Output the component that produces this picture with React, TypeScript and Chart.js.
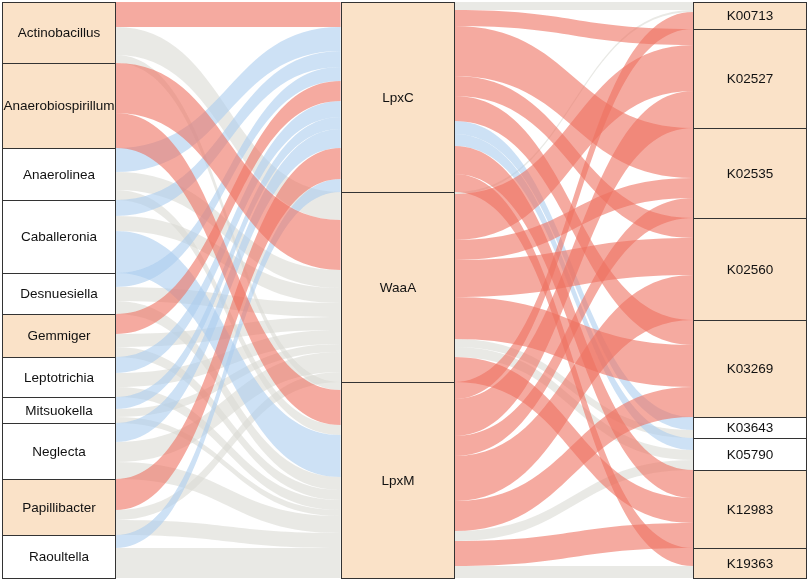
import React, { useEffect, useRef } from "react";
import { Chart, registerables } from "chart.js";

Chart.register(...registerables);

// ---- data ----
const genera = [
  "Actinobacillus",
  "Anaerobiospirillum",
  "Anaerolinea",
  "Caballeronia",
  "Desnuesiella",
  "Gemmiger",
  "Leptotrichia",
  "Mitsuokella",
  "Neglecta",
  "Papillibacter",
  "Raoultella",
];
const enzymes = ["LpxC", "WaaA", "LpxM"];
const kos = ["K00713", "K02527", "K02535", "K02560", "K03269", "K03643", "K05790", "K12983", "K19363"];

const highlightedGenera = ["Actinobacillus", "Anaerobiospirillum", "Gemmiger", "Papillibacter"];
const highlightedEnzymes = ["LpxC", "WaaA", "LpxM"];
const highlightedKos = ["K00713", "K02527", "K02535", "K02560", "K03269", "K12983", "K19363"];

// genus -> [LpxC, WaaA, LpxM]
const genusToEnzyme = [
  [25, 28, 8],
  [0, 50, 35],
  [24, 18, 10],
  [16, 15, 42],
  [14, 14, 13],
  [20, 13, 10],
  [16, 14, 10],
  [12, 8, 6],
  [19, 20, 17],
  [31, 10, 15],
  [13, 0, 30],
];
// r = red, b = blue, g = grey
const genusToEnzymeColor = [
  ["r", "g", "g"],
  ["r", "r", "r"],
  ["b", "g", "g"],
  ["b", "g", "b"],
  ["b", "g", "g"],
  ["r", "g", "g"],
  ["b", "g", "g"],
  ["b", "g", "g"],
  ["b", "g", "g"],
  ["r", "g", "g"],
  ["b", "g", "g"],
];

// enzyme -> KOs
const enzymeToKo = [
  [8, 16, 50, 20, 25, 13, 12, 28, 18],
  [2, 46, 20, 37, 42, 8, 10, 25, 0],
  [17, 37, 20, 45, 30, 0, 10, 25, 12],
];
const enzymeToKoColor = [
  ["g", "r", "r", "r", "r", "b", "b", "r", "r"],
  ["g", "r", "r", "r", "r", "g", "g", "r", "r"],
  ["r", "r", "r", "r", "r", "g", "g", "r", "g"],
];

const columnPositions = [0, 0.98, 2];

// ---- styles ----
const NODE_HALF = 0.165;
const FLOW_COLORS: Record<string, string> = {
  r: "rgba(238,113,97,0.6)",
  b: "rgba(172,205,238,0.6)",
  g: "rgba(218,218,212,0.6)",
};
const PEACH = "#FAE2C8";
const BORDER = "#333333";
const FONT = "13.5px 'Liberation Sans', Arial, sans-serif";

function stack(sizes: number[]) {
  let acc = 0;
  return sizes.map((s) => {
    const y0 = acc;
    acc += s;
    return y0;
  });
}

const sum = (a: number[]) => a.reduce((p, c) => p + c, 0);

export default function App() {
  const ref = useRef<HTMLCanvasElement | null>(null);

  useEffect(() => {
    if (!ref.current) return;

    const genusSizes = genusToEnzyme.map((r) => sum(r));
    const enzymeSizes = enzymes.map((_, j) => sum(genusToEnzyme.map((r) => r[j])));
    const koSizes = kos.map((_, k) => sum(enzymeToKo.map((r) => r[k])));
    const total = sum(genusSizes);

    const columns = [
      { names: genera, sizes: genusSizes, hi: highlightedGenera },
      { names: enzymes, sizes: enzymeSizes, hi: highlightedEnzymes },
      { names: kos, sizes: koSizes, hi: highlightedKos },
    ];
    const starts = columns.map((c) => stack(c.sizes));

    type Flow = { col: number; s0: number; s1: number; t0: number; t1: number; color: string };
    const flows: Flow[] = [];

    const buildSection = (col: number, matrix: number[][], colors: string[][]) => {
      const srcOff = starts[col].slice();
      const tgtOff = starts[col + 1].slice();
      const nS = matrix.length;
      const nT = matrix[0].length;
      const srcPos: number[][] = matrix.map(() => []);
      for (let i = 0; i < nS; i++) {
        for (let j = 0; j < nT; j++) {
          srcPos[i][j] = srcOff[i];
          srcOff[i] += matrix[i][j];
        }
      }
      const tgtPos: number[][] = matrix.map(() => []);
      for (let j = 0; j < nT; j++) {
        for (let i = 0; i < nS; i++) {
          tgtPos[i][j] = tgtOff[j];
          tgtOff[j] += matrix[i][j];
        }
      }
      for (let i = 0; i < nS; i++)
        for (let j = 0; j < nT; j++) {
          const v = matrix[i][j];
          if (v <= 0) continue;
          flows.push({
            col,
            s0: srcPos[i][j],
            s1: srcPos[i][j] + v,
            t0: tgtPos[i][j],
            t1: tgtPos[i][j] + v,
            color: colors[i][j],
          });
        }
    };
    buildSection(0, genusToEnzyme, genusToEnzymeColor);
    buildSection(1, enzymeToKo, enzymeToKoColor);

    const alluvialPlugin = {
      id: "alluvial",
      afterDatasetsDraw(chart: any) {
        const ctx = chart.ctx as CanvasRenderingContext2D;
        const xs = chart.scales.x;
        const ys = chart.scales.y;
        ctx.save();
        // flows
        for (const key of ["g", "b", "r"]) {
          ctx.fillStyle = FLOW_COLORS[key];
          for (const f of flows) {
            if (f.color !== key) continue;
            const x1 = xs.getPixelForValue(columnPositions[f.col] + NODE_HALF);
            const x2 = xs.getPixelForValue(columnPositions[f.col + 1] - NODE_HALF);
            const xm = (x1 + x2) / 2;
            const ya = ys.getPixelForValue(f.s0);
            const yb = ys.getPixelForValue(f.s1);
            const yc = ys.getPixelForValue(f.t0);
            const yd = ys.getPixelForValue(f.t1);
            ctx.beginPath();
            ctx.moveTo(x1, ya);
            ctx.bezierCurveTo(xm, ya, xm, yc, x2, yc);
            ctx.lineTo(x2, yd);
            ctx.bezierCurveTo(xm, yd, xm, yb, x1, yb);
            ctx.closePath();
            ctx.fill();
          }
        }
        // nodes
        ctx.font = FONT;
        ctx.textAlign = "center";
        ctx.textBaseline = "middle";
        columns.forEach((c, ci) => {
          const xl = Math.round(xs.getPixelForValue(columnPositions[ci] - NODE_HALF));
          const xr = Math.round(xs.getPixelForValue(columnPositions[ci] + NODE_HALF));
          c.names.forEach((name, ni) => {
            const y0 = Math.round(ys.getPixelForValue(starts[ci][ni]));
            const y1 = Math.round(ys.getPixelForValue(starts[ci][ni] + c.sizes[ni]));
            ctx.fillStyle = c.hi.includes(name) ? PEACH : "#FFFFFF";
            ctx.fillRect(xl, y0, xr - xl, y1 - y0);
            ctx.strokeStyle = BORDER;
            ctx.lineWidth = 1;
            ctx.strokeRect(xl + 0.5, y0 + 0.5, xr - xl - 1, y1 - y0);
            ctx.fillStyle = "#111111";
            ctx.fillText(name, (xl + xr) / 2, (y0 + y1) / 2 + 1);
          });
        });
        ctx.restore();
      },
    };

    const chart = new Chart(ref.current, {
      type: "scatter",
      data: { datasets: [{ data: [] }] },
      options: {
        animation: false,
        responsive: true,
        maintainAspectRatio: false,
        layout: { padding: { left: 2, right: 2, top: 2, bottom: 3 } },
        scales: {
          x: { type: "linear", min: columnPositions[0] - NODE_HALF, max: columnPositions[2] + NODE_HALF, display: false },
          y: { type: "linear", min: 0, max: total, reverse: true, display: false },
        },
        plugins: { legend: { display: false }, tooltip: { enabled: false } },
      },
      plugins: [alluvialPlugin],
    });
    return () => chart.destroy();
  }, []);

  return (
    <div style={{ position: "fixed", left: 0, top: 0, width: 809, height: 581, background: "#ffffff" }}>
      <canvas ref={ref} />
    </div>
  );
}
